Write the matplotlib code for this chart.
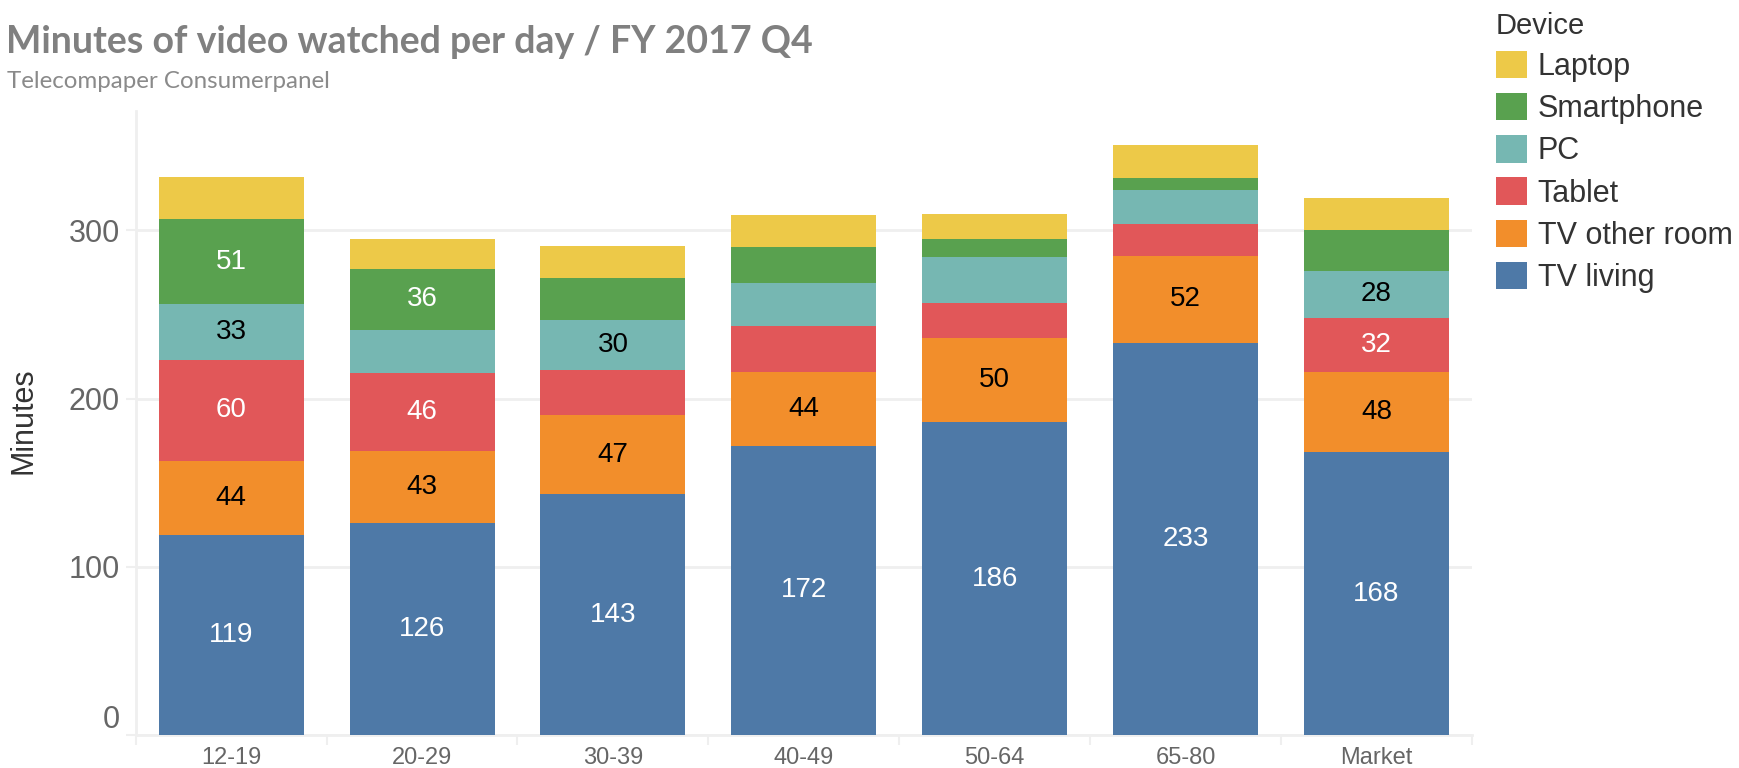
import matplotlib
matplotlib.use("Agg")
import matplotlib.pyplot as plt
import matplotlib.transforms as mtransforms
import numpy as np

plt.rcParams['font.family'] = ['Liberation Sans', 'DejaVu Sans']

# ----------------- data -----------------
groups = ['12-19', '20-29', '30-39', '40-49', '50-64', '65-80', 'Market']
devices = ['TV living', 'TV other room', 'Tablet', 'PC', 'Smartphone', 'Laptop']
tv_living = [119, 126, 143, 172, 186, 233, 168]
tv_other = [44, 43, 47, 44, 50, 52, 48]
tablet = [60, 46, 27, 27, 21, 19, 32]
pc = [33, 26, 30, 26, 27, 20, 28]
smartphone = [51, 36, 25, 21, 11, 7, 24]
laptop = [25, 18, 19, 19, 15, 20, 19]

series = [tv_living, tv_other, tablet, pc, smartphone, laptop]
colors = ['#4e79a7', '#f28e2b', '#e15759', '#76b7b2', '#59a14f', '#edc948']
label_colors = ['white', 'black', 'white', 'black', 'white', 'white']
min_label = 28  # smaller segments carry no label

# ----------------- figure -----------------
fig = plt.figure(figsize=(17.4, 7.68), dpi=100)
ax = fig.add_axes([135.7 / 1740, 1 - 735 / 768, 1336.3 / 1740, 624 / 768])

grid_c = '#efefef'
x = np.arange(len(groups))
bottom = np.zeros(len(groups))
for vals, col, lc, name in zip(series, colors, label_colors, devices):
    vals = np.array(vals, dtype=float)
    bars = ax.bar(x, vals, 0.76, bottom=bottom, color=col, label=name, zorder=3)
    for rect, v in zip(bars, vals):
        if v >= min_label:
            ax.text(rect.get_x() + rect.get_width() / 2, rect.get_y() + v / 2, f'{int(v)}',
                    ha='center', va='center', color=lc, fontsize=20, zorder=4)
    bottom += vals

ax.set_xlim(-0.5, len(groups) - 0.5)
ax.set_ylim(0, 371)
ax.set_yticks([0, 100, 200, 300])
ax.yaxis.grid(True, color=grid_c, linewidth=2, zorder=0)
ax.set_xticks(x)
ax.set_xticklabels(groups)
ax.set_xticks(np.arange(-0.5, len(groups)), minor=True)

ax.tick_params(axis='y', length=7.5, width=1.5, color=grid_c, labelsize=22, labelcolor='#666666', pad=4)
ax.tick_params(axis='x', which='major', length=0, labelsize=17, labelcolor='#666666', pad=9)
ax.tick_params(axis='x', which='minor', length=7.5, width=1.5, color=grid_c)

for s in ['top', 'right']:
    ax.spines[s].set_visible(False)
for s in ['left', 'bottom']:
    ax.spines[s].set_color(grid_c)
    ax.spines[s].set_linewidth(2)

# Tableau keeps the zero label inside the axis
zero_lbl = ax.get_yticklabels()[0]
zero_lbl.set_transform(zero_lbl.get_transform() +
                       mtransforms.ScaledTranslation(0, 0.18, fig.dpi_scale_trans))

ax.set_ylabel('Minutes', fontsize=22, color='#333333', va='center')
ax.yaxis.set_label_coords(-0.0836, 0.503)

# ----------------- titles -----------------
fig.text(6 / 1740, 1 - 53 / 768, 'Minutes of video watched per day / FY 2017 Q4',
         fontsize=27, fontweight='bold', color='#808080', family=['Lato', 'DejaVu Sans'],
         va='baseline', ha='left')
fig.text(7 / 1740, 1 - 88 / 768, 'Telecompaper Consumerpanel',
         fontsize=17.4, color='#8a8a8a', family=['Lato', 'DejaVu Sans'],
         va='baseline', ha='left')

# ----------------- legend -----------------
handles, labels = ax.get_legend_handles_labels()
leg = fig.legend(handles[::-1], labels[::-1], title='Device', loc='upper left',
                 bbox_to_anchor=(1496 / 1740, 1 - 12 / 768), frameon=False,
                 fontsize=22, title_fontsize=21, alignment='left',
                 borderpad=0, borderaxespad=0, handlelength=1.0, handleheight=1.0,
                 handletextpad=0.36, labelspacing=0.36)
for t in leg.get_texts():
    t.set_color('#333333')
leg.get_title().set_color('#333333')

fig.savefig('out.png', dpi=100)
